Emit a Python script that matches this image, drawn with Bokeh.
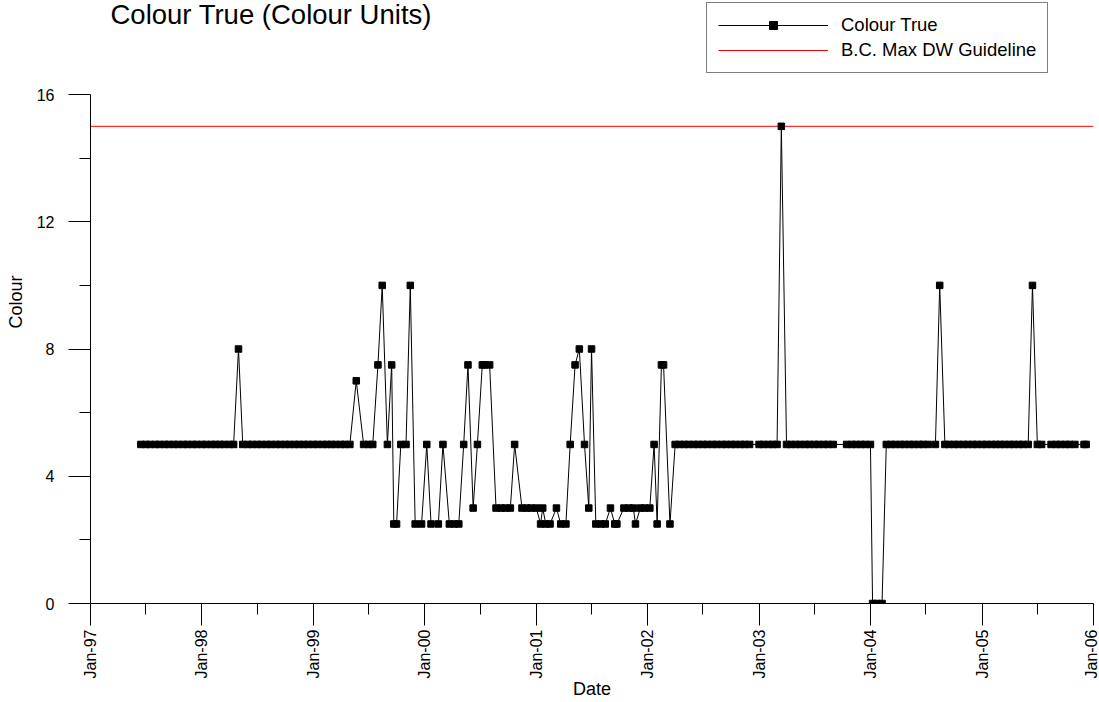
import math
from datetime import datetime

from bokeh.plotting import figure
from bokeh.models import Range1d, FixedTicker, DatetimeTickFormatter, Legend, LegendItem, Label
from bokeh.embed import file_html
from bokeh.resources import INLINE

# ---------------- data ----------------
sample_dates = [
    "1997-06-15", "1997-07-01", "1997-07-15", "1997-08-01", "1997-08-15", "1997-09-01", "1997-09-15",
    "1997-10-01", "1997-10-15", "1997-11-01", "1997-11-15", "1997-12-01", "1997-12-15",
    "1998-01-01", "1998-01-15", "1998-02-01", "1998-02-15", "1998-03-01", "1998-03-15",
    "1998-04-01", "1998-04-15", "1998-05-01", "1998-05-15", "1998-06-01", "1998-06-15",
    "1998-07-01", "1998-07-15", "1998-08-01", "1998-08-15", "1998-09-01", "1998-09-15",
    "1998-10-01", "1998-10-15", "1998-11-01", "1998-11-15", "1998-12-01", "1998-12-15",
    "1999-01-01", "1999-01-15", "1999-02-01", "1999-02-15", "1999-03-01", "1999-03-15",
    "1999-04-01", "1999-04-15", "1999-05-01", "1999-05-22", "1999-06-15", "1999-07-01",
    "1999-07-15", "1999-08-01", "1999-08-15", "1999-09-01", "1999-09-15", "1999-09-22",
    "1999-10-01", "1999-10-15", "1999-11-01", "1999-11-15", "1999-12-01", "1999-12-22",
    "2000-01-08", "2000-01-22", "2000-02-15", "2000-03-01", "2000-03-22", "2000-04-08",
    "2000-04-22", "2000-05-08", "2000-05-22", "2000-06-08", "2000-06-22", "2000-07-08",
    "2000-07-15", "2000-08-01", "2000-08-22", "2000-09-08", "2000-09-22", "2000-10-08",
    "2000-10-22", "2000-11-15", "2000-12-01", "2000-12-15",
    "2001-01-01", "2001-01-15", "2001-01-22", "2001-02-01", "2001-02-15", "2001-03-08",
    "2001-03-22", "2001-04-08", "2001-04-22", "2001-05-08", "2001-05-22", "2001-06-08",
    "2001-06-22", "2001-07-01", "2001-07-15", "2001-08-01", "2001-08-15", "2001-09-01",
    "2001-09-15", "2001-09-22", "2001-10-15", "2001-11-01", "2001-11-15", "2001-11-22",
    "2001-12-08", "2001-12-22",
    "2002-01-08", "2002-01-22", "2002-02-01", "2002-02-15", "2002-02-22", "2002-03-15",
    "2002-04-01", "2002-04-15", "2002-05-01", "2002-05-15", "2002-06-01", "2002-06-15",
    "2002-07-01", "2002-07-15", "2002-08-01", "2002-08-15", "2002-09-01", "2002-09-15",
    "2002-10-01", "2002-10-15", "2002-11-01", "2002-11-15", "2002-12-01",
    "2003-01-01", "2003-01-15", "2003-02-01", "2003-02-15", "2003-03-01", "2003-03-15",
    "2003-04-01", "2003-04-15", "2003-05-01", "2003-05-15", "2003-06-01", "2003-06-15",
    "2003-07-01", "2003-07-15", "2003-08-01", "2003-08-15", "2003-09-01",
    "2003-10-15", "2003-11-01", "2003-11-15", "2003-12-01", "2003-12-15",
    "2004-01-01", "2004-01-08", "2004-01-22", "2004-02-08", "2004-02-22", "2004-03-08",
    "2004-03-22", "2004-04-08", "2004-04-22", "2004-05-08", "2004-05-22", "2004-06-08",
    "2004-06-22", "2004-07-08", "2004-08-01", "2004-08-15", "2004-09-01", "2004-09-15",
    "2004-10-01", "2004-10-15", "2004-11-01", "2004-11-15", "2004-12-01", "2004-12-15",
    "2005-01-01", "2005-01-15", "2005-02-01", "2005-02-15", "2005-03-01", "2005-03-15",
    "2005-04-01", "2005-04-15", "2005-05-01", "2005-05-15", "2005-06-01", "2005-06-15",
    "2005-07-01", "2005-07-15", "2005-08-15", "2005-09-01", "2005-09-15", "2005-10-01",
    "2005-10-15", "2005-11-01", "2005-12-01", "2005-12-08",
]

colour_true = [
    5, 5, 5, 5, 5, 5, 5,
    5, 5, 5, 5, 5, 5,
    5, 5, 5, 5, 5, 5,
    5, 5, 8, 5, 5, 5,
    5, 5, 5, 5, 5, 5,
    5, 5, 5, 5, 5, 5,
    5, 5, 5, 5, 5, 5,
    5, 5, 5, 7, 5, 5,
    5, 7.5, 10, 5, 7.5, 2.5,
    2.5, 5, 5, 10, 2.5, 2.5,
    5, 2.5, 2.5, 5, 2.5, 2.5,
    2.5, 5, 7.5, 3, 5, 7.5,
    7.5, 7.5, 3, 3, 3, 3,
    5, 3, 3, 3,
    3, 2.5, 3, 2.5, 2.5, 3,
    2.5, 2.5, 5, 7.5, 8, 5,
    3, 8, 2.5, 2.5, 2.5, 3,
    2.5, 2.5, 3, 3, 3, 2.5,
    3, 3,
    3, 5, 2.5, 7.5, 7.5, 2.5,
    5, 5, 5, 5, 5, 5,
    5, 5, 5, 5, 5, 5,
    5, 5, 5, 5, 5,
    5, 5, 5, 5, 5, 15,
    5, 5, 5, 5, 5, 5,
    5, 5, 5, 5, 5,
    5, 5, 5, 5, 5,
    5, 0, 0, 0, 5, 5,
    5, 5, 5, 5, 5, 5,
    5, 5, 5, 10, 5, 5,
    5, 5, 5, 5, 5, 5,
    5, 5, 5, 5, 5, 5,
    5, 5, 5, 5, 5, 10,
    5, 5, 5, 5, 5, 5,
    5, 5, 5, 5,
]

guideline_value = 15
series_label = "Colour True"
guideline_label = "B.C. Max DW Guideline"
title_text = "Colour True (Colour Units)"
x_label = "Date"
y_label = "Colour"
y_major_ticks = [0, 4, 8, 12, 16]
y_minor_ticks = [2, 6, 10, 14]
tick_years = list(range(1997, 2007))
axis_start = "1997-01-01"
axis_end = "2006-01-01"

# ---------------- chart ----------------
EPOCH = datetime(1970, 1, 1)


def to_ms(dt):
    return (dt - EPOCH).total_seconds() * 1000.0


dates = [datetime.strptime(d, "%Y-%m-%d") for d in sample_dates]
x0 = datetime.strptime(axis_start, "%Y-%m-%d")
x1 = datetime.strptime(axis_end, "%Y-%m-%d")

FONT = "Liberation Sans"
W, H = 1099, 702
LEFT, RIGHT = 90, 6
AXIS_TOP_PX, AXIS_BOTTOM_PX = 94, 603      # pixel rows of y = 16 and y = 0
BOTTOM = H - AXIS_BOTTOM_PX
# the frame reaches the top of the canvas so title and legend are not clipped;
# the visible y axis is bounded to 0..16
y_lo, y_hi = y_major_ticks[0], y_major_ticks[-1]
y_top = y_lo + (y_hi - y_lo) * AXIS_BOTTOM_PX / (AXIS_BOTTOM_PX - AXIS_TOP_PX)

p = figure(
    width=W, height=H,
    x_axis_type="datetime",
    x_range=Range1d(to_ms(x0), to_ms(x1)),
    y_range=Range1d(y_lo, y_top),
    output_backend="svg", toolbar_location=None, title=None,
    min_border_left=LEFT, min_border_right=RIGHT, min_border_top=0, min_border_bottom=BOTTOM,
    background_fill_color="white", border_fill_color="white",
)
p.outline_line_color = None
p.xgrid.visible = False
p.ygrid.visible = False

# x axis
xa = p.xaxis[0]
xa.ticker = FixedTicker(
    ticks=[to_ms(datetime(y, 1, 1)) for y in tick_years],
    minor_ticks=[to_ms(datetime(y, 7, 1)) for y in tick_years[:-1]],
)
fmt = "%b-%y"
xa.formatter = DatetimeTickFormatter(
    years=fmt, months=fmt, days=fmt, hours=fmt, hourmin=fmt, minutes=fmt,
    minsec=fmt, seconds=fmt, milliseconds=fmt, microseconds=fmt,
)
xa.major_label_orientation = math.pi / 2
xa.major_tick_out = 22
xa.major_tick_in = 0
xa.minor_tick_out = 11
xa.minor_tick_in = 0
xa.major_label_standoff = 4
xa.major_label_text_font = FONT
xa.major_label_text_font_size = "16px"
xa.major_label_text_color = "black"
xa.axis_line_color = "black"
xa.major_tick_line_color = "black"
xa.minor_tick_line_color = "black"
xa.axis_label = x_label
xa.axis_label_standoff = -2
xa.axis_label_text_font = FONT
xa.axis_label_text_font_size = "18px"
xa.axis_label_text_font_style = "normal"
xa.axis_label_text_color = "black"

# y axis
ya = p.yaxis[0]
ya.bounds = (y_lo, y_hi)
ya.ticker = FixedTicker(ticks=y_major_ticks, minor_ticks=y_minor_ticks)
ya.major_tick_out = 22
ya.major_tick_in = 0
ya.minor_tick_out = 11
ya.minor_tick_in = 0
ya.major_label_standoff = 14
ya.major_label_text_font = FONT
ya.major_label_text_font_size = "16px"
ya.major_label_text_color = "black"
ya.axis_line_color = "black"
ya.major_tick_line_color = "black"
ya.minor_tick_line_color = "black"
ya.axis_label = y_label
ya.axis_label_standoff = 8
ya.axis_label_text_font = FONT
ya.axis_label_text_font_size = "18px"
ya.axis_label_text_font_style = "normal"
ya.axis_label_text_color = "black"

# glyphs
r_guide = p.line([x0, x1], [guideline_value, guideline_value], line_color="#ff0000", line_width=1)
r_line = p.line(dates, colour_true, line_color="black", line_width=1)
r_pts = p.scatter(dates, colour_true, marker="square", size=6.5, fill_color="black", line_color="black")

# legend (top right, above the axis area)
frame_h = AXIS_BOTTOM_PX
legend = Legend(
    items=[
        LegendItem(label=series_label, renderers=[r_line, r_pts]),
        LegendItem(label=guideline_label, renderers=[r_guide]),
    ],
    location=(706 - LEFT, frame_h - 73),
    padding=11, spacing=3, margin=0,
    glyph_width=110, glyph_height=20, label_height=20, label_standoff=13,
    label_text_font=FONT, label_text_font_size="18.5px", label_text_color="black",
    border_line_color="black", border_line_width=1,
    background_fill_color="white", background_fill_alpha=1,
)
p.add_layout(legend)

# title as a free label at the top left
p.add_layout(Label(
    x=110 - LEFT, y=frame_h - 14, x_units="screen", y_units="screen",
    text=title_text, text_font=FONT, text_font_size="27.5px",
    text_color="black", text_baseline="alphabetic", text_align="left",
))

open("out.html", "w").write(file_html(p, INLINE))
